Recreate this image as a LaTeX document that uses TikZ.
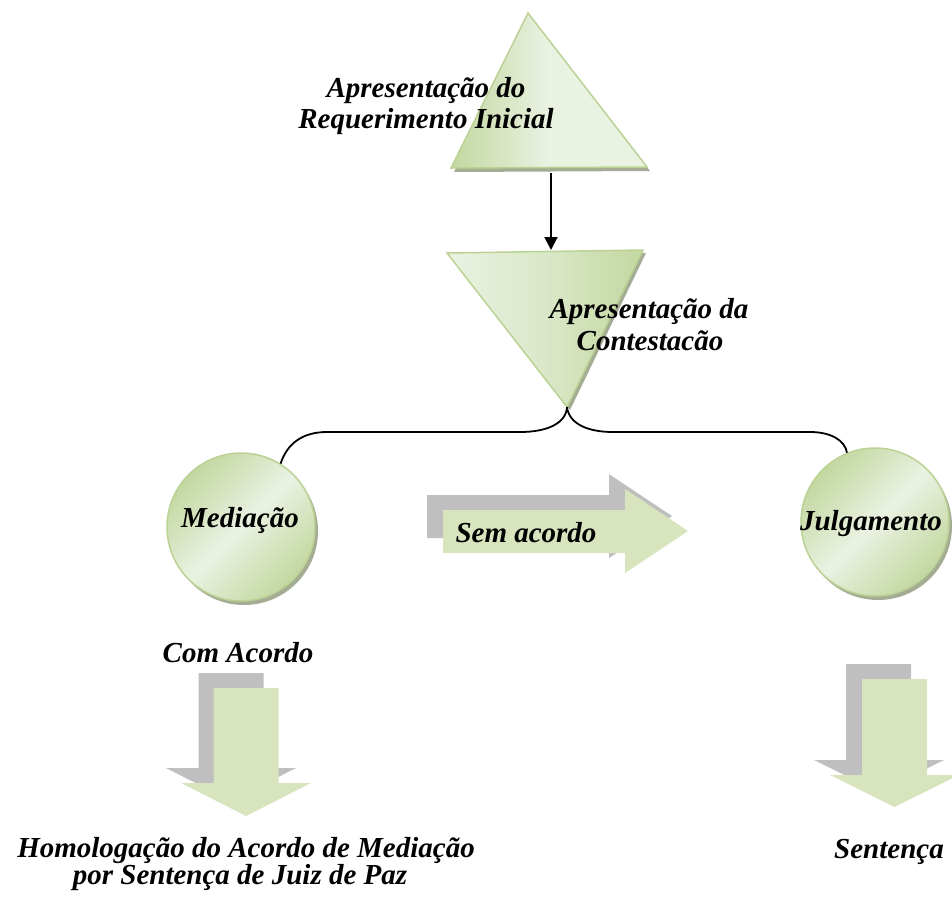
\documentclass[tikz,border=0pt]{standalone}
\usepackage{fontspec}
\setmainfont{Liberation Serif}
\usetikzlibrary{arrows.meta}
\definecolor{grn}{HTML}{D7E4BD}
\definecolor{gry}{HTML}{BFBFBF}
\definecolor{grnedge}{HTML}{BBD295}
\definecolor{grnlight}{HTML}{EAF2E2}
\definecolor{grndark}{HTML}{C3D7A0}
\definecolor{shadowc}{HTML}{A4AD94}
\begin{document}
\begin{tikzpicture}[x=1pt,y=-1pt,
  lbl/.style={font=\fontsize{29}{31}\selectfont\bfseries\itshape, inner sep=0pt, anchor=base},
  glossy/.style={left color=grndark, right color=grndark, middle color=grnlight, shading angle=45, draw=grnedge, line width=1.5pt},
  shadowfill/.style={fill=shadowc},
  blockarrow/.style={fill=grn},
  blockshadow/.style={fill=gry},
  conn/.style={line width=1.8pt, black}
]
\useasboundingbox (0,0) rectangle (952,900);

% ---- top triangle
\coordinate (T1a) at (528,13);
\coordinate (T1l) at (451,168);
\coordinate (T1r) at (647,167);
\fill[shadowfill] ([shift={(3,4)}]T1a) -- ([shift={(3,4)}]T1l) -- ([shift={(3,4)}]T1r) -- cycle;
\shade[glossy, right color=grnlight, middle color=grnlight] (T1a) -- (T1l) -- (T1r) -- cycle;

% ---- inverted triangle
\coordinate (T2l) at (447,253);
\coordinate (T2r) at (643,250);
\coordinate (T2b) at (567,407);
\fill[shadowfill] ([shift={(3,3)}]T2l) -- ([shift={(3,3)}]T2r) -- ([shift={(3,3)}]T2b) -- cycle;
\shade[glossy, left color=grnlight, middle color=grnlight!60!grndark] (T2l) -- (T2r) -- (T2b) -- cycle;

% ---- arrow between triangles
\coordinate (A1s) at (551,173);
\coordinate (A1e) at (551,250);
\draw[line width=2pt, -{Triangle[length=13pt,width=13pt]}] (A1s) -- (A1e);

% ---- circles
\fill[shadowfill] (244,531) circle[radius=74pt];
\node[circle, glossy, minimum size=148pt, inner sep=0pt] (med) at (241,527) {};
\fill[shadowfill] (878,526) circle[radius=74pt];
\node[circle, glossy, minimum size=148pt, inner sep=0pt] (jul) at (875,522) {};

% ---- connector
\coordinate (J1) at (520,432);
\coordinate (J2) at (327,432);
\coordinate (J3) at (613,432);
\coordinate (J4) at (810,432);
\draw[conn] (T2b) .. controls (566,424) and (546,432) .. (J1) -- (J2)
  .. controls (302,432) and (287,444) .. (med.58);
\draw[conn] (T2b) .. controls (569,424) and (588,432) .. (J3) -- (J4)
  .. controls (832,432) and (845,441) .. (jul.112);

% ---- Sem acordo arrow
\fill[blockshadow] (427,495) -- (609,495) -- (609,474) -- (672,516) -- (609,558) -- (609,538) -- (427,538) -- cycle;
\fill[blockarrow] (443,510) -- (625,510) -- (625,489) -- (688,531) -- (625,573) -- (625,553) -- (443,553) -- cycle;

% ---- Com Acordo down arrow
\fill[blockshadow] (198.5,673) -- (263.5,673) -- (263.5,768) -- (296,768) -- (231,801) -- (166,768) -- (198.5,768) -- cycle;
\fill[blockarrow] (213.5,688) -- (278.5,688) -- (278.5,783) -- (311,783) -- (246,816) -- (181,783) -- (213.5,783) -- cycle;

% ---- Sentenca down arrow
\fill[blockshadow] (846,664) -- (911,664) -- (911,760) -- (944,760) -- (879,792) -- (814,760) -- (846,760) -- cycle;
\fill[blockarrow] (862,679) -- (927,679) -- (927,775) -- (959,775) -- (894.5,807) -- (830,775) -- (862,775) -- cycle;

% ---- texts
\node[lbl] (t1a) at (426,97) {Apresentação do};
\node[lbl] (t1b) at (426,128) {Requerimento Inicial};
\node[lbl] (t2a) at (649,318) {Apresentação da};
\node[lbl] (t2b) at (650,350) {Contestacão};
\node[lbl] (medt) at (240,527) {Mediação};
\node[lbl] (semt) at (526,542) {Sem acordo};
\node[lbl] (jult) at (871,530) {Julgamento};
\node[lbl] (comt) at (238,662) {Com Acordo};
\node[lbl] (homa) at (246,857) {Homologação do Acordo de Mediação};
\node[lbl] (homb) at (240,884) {por Sentença de Juiz de Paz};
\node[lbl] (sent) at (889,858) {Sentença};
\end{tikzpicture}
\end{document}
